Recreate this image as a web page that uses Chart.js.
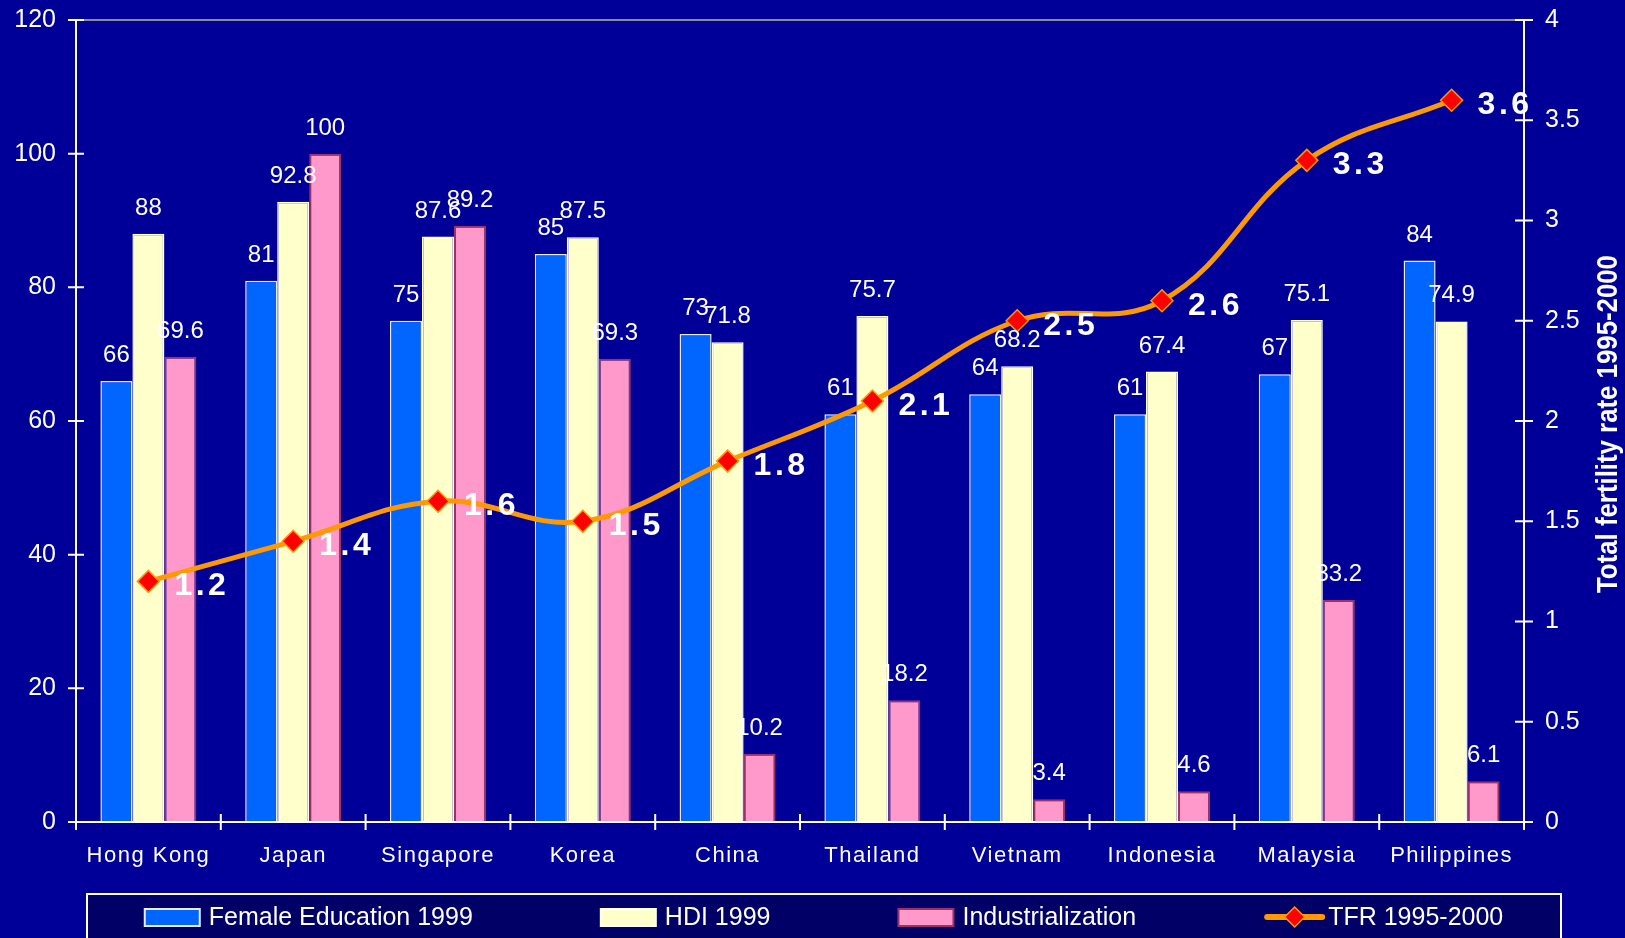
<!DOCTYPE html>
<html>
<head>
<meta charset="utf-8">
<script src="https://cdn.jsdelivr.net/npm/chart.js@4.4.1/dist/chart.umd.min.js"></script>
<style>
  html, body { margin: 0; padding: 0; background: #000099; overflow: hidden; }
</style>
</head>
<body>
<canvas id="chart" width="1625" height="938"></canvas>
<script>
// Chart data
const countries = ['Hong Kong', 'Japan', 'Singapore', 'Korea', 'China', 'Thailand', 'Vietnam', 'Indonesia', 'Malaysia', 'Philippines'];
const femaleEducation = [66, 81, 75, 85, 73, 61, 64, 61, 67, 84];
const hdi = [88, 92.8, 87.6, 87.5, 71.8, 75.7, 68.2, 67.4, 75.1, 74.9];
const industrialization = [69.6, 100, 89.2, 69.3, 10.2, 18.2, 3.4, 4.6, 33.2, 6.1];
const tfr = [1.2, 1.4, 1.6, 1.5, 1.8, 2.1, 2.5, 2.6, 3.3, 3.6];
const seriesNames = ['Female Education 1999', 'HDI 1999', 'Industrialization', 'TFR 1995-2000'];
const rightAxisTitle = 'Total fertility rate 1995-2000';

const FONT = '"Liberation Sans", Arial, Helvetica, sans-serif';
const BG = '#000099';

/**
 * Draws axes with crossing tick marks, value labels, category labels,
 * the rotated right-axis title and the boxed legend.
 */
const decorPlugin = {
    id: 'decor',

    beforeDraw(chart) {
        const { ctx, width, height } = chart;
        ctx.save();
        ctx.fillStyle = BG;
        ctx.fillRect(0, 0, width, height);
        ctx.restore();
    },

    beforeDatasetsDraw(chart) {
        const { ctx, chartArea: a } = chart;
        // gray top border line
        ctx.save();
        ctx.strokeStyle = '#8c8c8c';
        ctx.lineWidth = 2;
        ctx.beginPath();
        ctx.moveTo(a.left, a.top);
        ctx.lineTo(a.right, a.top);
        ctx.stroke();
        ctx.restore();
    },

    afterDatasetsDraw(chart) {
        const { ctx, chartArea: a, scales } = chart;
        const x = scales.x, y = scales.y, y1 = scales.y1;

        ctx.save();
        ctx.strokeStyle = '#ffffff';
        ctx.lineWidth = 2;
        ctx.beginPath();
        // axis lines
        ctx.moveTo(a.left, a.top); ctx.lineTo(a.left, a.bottom);
        ctx.moveTo(a.right, a.top); ctx.lineTo(a.right, a.bottom);
        ctx.moveTo(a.left, a.bottom); ctx.lineTo(a.right, a.bottom);
        // tick marks crossing the axes
        y.ticks.forEach((t, i) => {
            const py = y.getPixelForTick(i);
            ctx.moveTo(a.left - 8, py); ctx.lineTo(a.left + 8, py);
        });
        y1.ticks.forEach((t, i) => {
            const py = y1.getPixelForTick(i);
            ctx.moveTo(a.right - 9, py); ctx.lineTo(a.right + 9, py);
        });
        for (let i = 0; i <= countries.length; i++) {
            const px = x.getPixelForValue(i - 0.5);
            ctx.moveTo(px, a.bottom - 8); ctx.lineTo(px, a.bottom + 8);
        }
        ctx.stroke();

        // value labels above bars
        ctx.fillStyle = '#ffffff';
        ctx.font = '24px ' + FONT;
        ctx.textAlign = 'center';
        ctx.textBaseline = 'alphabetic';
        [0, 1, 2].forEach(di => {
            const meta = chart.getDatasetMeta(di);
            const values = chart.data.datasets[di].data;
            meta.data.forEach((bar, j) => {
                ctx.fillText(String(values[j]), bar.x, bar.y - 19);
            });
        });

        // TFR labels
        const lineMeta = chart.getDatasetMeta(3);
        ctx.font = 'bold 32px ' + FONT;
        ctx.letterSpacing = '3.5px';
        ctx.textAlign = 'left';
        ctx.textBaseline = 'middle';
        lineMeta.data.forEach((pt, j) => {
            ctx.fillText(String(tfr[j]), pt.x + 26, pt.y + 5);
        });

        // category labels
        ctx.font = '22px ' + FONT;
        ctx.letterSpacing = '1.5px';
        ctx.textAlign = 'center';
        ctx.textBaseline = 'alphabetic';
        countries.forEach((c, i) => {
            ctx.fillText(c, x.getPixelForValue(i), a.bottom + 40);
        });
        ctx.letterSpacing = '0px';
        ctx.restore();

        // right axis title, reading upward
        ctx.save();
        ctx.translate(1617, 424);
        ctx.rotate(-Math.PI / 2);
        ctx.scale(0.86, 1);
        ctx.fillStyle = '#ffffff';
        ctx.font = 'bold 30px ' + FONT;
        ctx.textAlign = 'center';
        ctx.textBaseline = 'alphabetic';
        ctx.fillText(rightAxisTitle, 0, 0);
        ctx.restore();

        this.drawLegend(chart);
    },

    drawLegend(chart) {
        const { ctx } = chart;
        const box = { left: 87, top: 894, width: 1474, height: 70 };
        ctx.save();
        ctx.fillStyle = '#000066';
        ctx.fillRect(box.left, box.top, box.width, box.height);
        ctx.strokeStyle = '#ffffff';
        ctx.lineWidth = 2;
        ctx.strokeRect(box.left, box.top, box.width, box.height);

        ctx.font = '25px ' + FONT;
        const symW = 55, symGap = 9, itemGap = 128;
        const widths = seriesNames.map(n => symW + symGap + ctx.measureText(n).width);
        const total = widths.reduce((s, w) => s + w, 0) + itemGap * (seriesNames.length - 1);
        let cx = box.left + (box.width - total) / 2;
        const cy = 918;
        const ds = chart.data.datasets;

        seriesNames.forEach((name, i) => {
            const d = ds[i];
            if (d.type === 'line') {
                ctx.strokeStyle = d.borderColor;
                ctx.lineWidth = 6;
                ctx.lineCap = 'round';
                ctx.beginPath();
                ctx.moveTo(cx + 3, cy - 1); ctx.lineTo(cx + symW + 3, cy - 1);
                ctx.stroke();
                const mx = cx + symW / 2 + 3, r = 10;
                ctx.beginPath();
                ctx.moveTo(mx - r, cy - 1); ctx.lineTo(mx, cy - 1 - r);
                ctx.lineTo(mx + r, cy - 1); ctx.lineTo(mx, cy - 1 + r);
                ctx.closePath();
                ctx.fillStyle = d.pointBackgroundColor;
                ctx.fill();
                ctx.lineWidth = 1.5;
                ctx.strokeStyle = d.pointBorderColor;
                ctx.stroke();
            } else {
                ctx.fillStyle = d.backgroundColor;
                ctx.fillRect(cx, cy - 9, symW, 17);
                ctx.lineWidth = 2;
                ctx.strokeStyle = d.borderColor;
                ctx.strokeRect(cx, cy - 9, symW, 17);
            }
            ctx.fillStyle = '#ffffff';
            ctx.textAlign = 'left';
            ctx.textBaseline = 'middle';
            ctx.fillText(name, cx + symW + symGap, cy);
            cx += widths[i] + itemGap;
        });
        ctx.restore();
    }
};

const tickFont = { family: FONT, size: 25 };

// fix axis widths and drop the automatic label padding so the plot area lines up
function fitVertical(width) {
    return scale => {
        scale.width = width;
        scale.paddingTop = 0;
        scale.paddingBottom = 0;
    };
}

new Chart(document.getElementById('chart'), {
    type: 'bar',
    data: {
        labels: countries,
        datasets: [
            {
                label: seriesNames[0],
                data: femaleEducation,
                backgroundColor: '#0066ff',
                borderColor: '#e8eeff',
                borderWidth: 1.5,
                yAxisID: 'y',
                order: 1
            },
            {
                label: seriesNames[1],
                data: hdi,
                backgroundColor: '#ffffcc',
                borderColor: '#ffffff',
                borderWidth: 1.5,
                yAxisID: 'y',
                order: 1
            },
            {
                label: seriesNames[2],
                data: industrialization,
                backgroundColor: '#ff99cc',
                borderColor: '#993366',
                borderWidth: 2,
                yAxisID: 'y',
                order: 1
            },
            {
                type: 'line',
                label: seriesNames[3],
                data: tfr,
                borderColor: '#ff9900',
                borderWidth: 5,
                tension: 0.4,
                pointStyle: 'rectRot',
                pointRadius: 11,
                pointBackgroundColor: '#ff0000',
                pointBorderColor: '#ff9900',
                pointBorderWidth: 1.5,
                yAxisID: 'y1',
                order: 0
            }
        ]
    },
    options: {
        responsive: false,
        animation: false,
        layout: { padding: { top: 20, left: 0, right: 0, bottom: 0 } },
        datasets: {
            bar: { categoryPercentage: 0.663, barPercentage: 1 }
        },
        scales: {
            x: {
                offset: true,
                grid: { display: false, drawTicks: false },
                border: { display: false },
                ticks: { display: false },
                afterFit(scale) { scale.height = 116; }
            },
            y: {
                position: 'left',
                min: 0,
                max: 120,
                grid: { display: false, drawTicks: false },
                border: { display: false },
                ticks: {
                    stepSize: 20,
                    color: '#ffffff',
                    font: tickFont,
                    padding: 20,
                    callback: v => String(v)
                },
                afterFit: fitVertical(76)
            },
            y1: {
                position: 'right',
                min: 0,
                max: 4,
                grid: { display: false, drawTicks: false },
                border: { display: false },
                ticks: {
                    stepSize: 0.5,
                    color: '#ffffff',
                    font: tickFont,
                    padding: 21,
                    callback: v => String(v)
                },
                afterFit: fitVertical(101)
            }
        },
        plugins: {
            legend: { display: false },
            tooltip: { enabled: false }
        }
    },
    plugins: [decorPlugin]
});
</script>
</body>
</html>
